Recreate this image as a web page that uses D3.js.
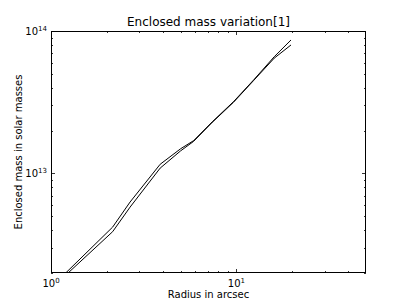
<!DOCTYPE html>
<html>
<head>
<meta charset="utf-8">
<script src="https://cdn.jsdelivr.net/npm/d3@7"></script>
<style>
  body { margin: 0; background: #fff; }
  svg text { font-family: "DejaVu Sans", sans-serif; fill: #000; }
</style>
</head>
<body>
<div id="chart"></div>
<script>
// radius in arcsec and the two enclosed-mass curves (solar masses)
var radius = [1.2, 2.15, 2.67, 3.88, 5.0, 5.88, 7.4, 9.67, 12.4, 16.0, 19.7];
var massUpper = [2.0e12, 4.2e12, 6.3e12, 1.16e13, 1.49e13, 1.7e13, 2.3e13, 3.2e13, 4.54e13, 6.6e13, 8.65e13];
var massLower = [1.93e12, 3.9e12, 5.8e12, 1.09e13, 1.44e13, 1.68e13, 2.28e13, 3.17e13, 4.5e13, 6.45e13, 7.98e13];
var xMajor = [1, 10];
var xMajorExp = ["0", "1"];
var yMajor = [1e13, 1e14];
var yMajorExp = ["13", "14"];

function drawChart() {
    var w = 407;
    var h = 305;
    var left = 51, right = 366, top = 31, bottom = 273;

    var x = d3.scaleLog().domain([1, 50]).range([left, right]);
    var y = d3.scaleLog().domain([2e12, 1e14]).range([bottom, top]);

    var svg = d3.select("#chart")
        .append("svg")
        .attr("width", w)
        .attr("height", h);

    svg.append("clipPath")
        .attr("id", "plot-clip")
        .append("rect")
        .attr("x", left)
        .attr("y", top)
        .attr("width", right - left)
        .attr("height", bottom - top);

    // minor/major ticks, pointing inward on all four sides
    var xMinor = [];
    [1, 10].forEach(function(d) {
        for (var k = 2; k <= 9; k++) if (d * k < 50) xMinor.push(d * k);
    });
    var yMinor = [];
    [1e12, 1e13].forEach(function(d) {
        for (var k = 2; k <= 9; k++) if (d * k >= 2e12) yMinor.push(d * k);
    });

    var ticks = svg.append("g")
        .attr("stroke", "#000")
        .attr("stroke-width", 0.8);

    function xTicks(vals, len) {
        vals.forEach(function(v) {
            var px = Math.round(x(v)) + 0.5;
            ticks.append("line").attr("x1", px).attr("x2", px)
                .attr("y1", bottom).attr("y2", bottom - len);
            ticks.append("line").attr("x1", px).attr("x2", px)
                .attr("y1", top).attr("y2", top + len);
        });
    }
    function yTicks(vals, len) {
        vals.forEach(function(v) {
            var py = Math.round(y(v)) + 0.5;
            ticks.append("line").attr("x1", left).attr("x2", left + len)
                .attr("y1", py).attr("y2", py);
            ticks.append("line").attr("x1", right).attr("x2", right - len)
                .attr("y1", py).attr("y2", py);
        });
    }
    xTicks(xMinor, 2);
    xTicks(xMajor, 4);
    yTicks(yMinor, 2);
    yTicks(yMajor, 4);

    var line = d3.line()
        .x(function(d) { return x(d[0]); })
        .y(function(d) { return y(d[1]); });

    var plot = svg.append("g").attr("clip-path", "url(#plot-clip)");
    [massUpper, massLower].forEach(function(series) {
        plot.append("path")
            .datum(radius.map(function(r, i) { return [r, series[i]]; }))
            .attr("fill", "none")
            .attr("stroke", "#000")
            .attr("stroke-width", 1)
            .attr("d", line);
    });

    svg.append("rect")
        .attr("x", left + 0.5)
        .attr("y", top + 0.5)
        .attr("width", right - left - 1)
        .attr("height", bottom - top - 1)
        .attr("fill", "none")
        .attr("stroke", "#000")
        .attr("stroke-width", 1);

    // tick labels with superscript exponents
    xMajor.forEach(function(v, i) {
        var t = svg.append("text")
            .attr("x", x(v))
            .attr("y", 287)
            .attr("text-anchor", "middle")
            .attr("font-size", "10px");
        t.append("tspan").text("10");
        t.append("tspan").attr("dy", -4).attr("font-size", "7px").text(xMajorExp[i]);
    });
    yMajor.forEach(function(v, i) {
        var t = svg.append("text")
            .attr("x", left - 4)
            .attr("y", y(v) + 4)
            .attr("text-anchor", "end")
            .attr("font-size", "10px");
        t.append("tspan").text("10");
        t.append("tspan").attr("dy", -4).attr("font-size", "7px").text(yMajorExp[i]);
    });

    svg.append("text")
        .attr("x", (left + right) / 2)
        .attr("y", 26)
        .attr("text-anchor", "middle")
        .attr("font-size", "12px")
        .text("Enclosed mass variation[1]");

    svg.append("text")
        .attr("x", (left + right) / 2)
        .attr("y", 298)
        .attr("text-anchor", "middle")
        .attr("font-size", "10px")
        .text("Radius in arcsec");

    svg.append("text")
        .attr("transform", "translate(22," + (top + bottom) / 2 + ") rotate(-90)")
        .attr("text-anchor", "middle")
        .attr("font-size", "10px")
        .text("Enclosed mass in solar masses");
}

drawChart();
</script>
</body>
</html>
